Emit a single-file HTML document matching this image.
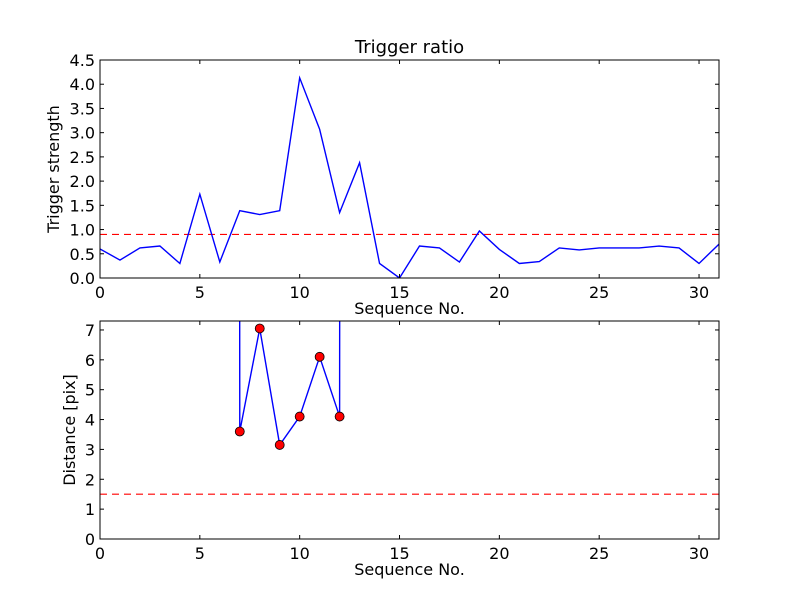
<!DOCTYPE html>
<html><head><meta charset="utf-8"><style>
body{margin:0;background:#fff}
svg{display:block}
text{font-family:"DejaVu Sans","Liberation Sans",sans-serif;fill:#000}
</style></head><body>
<svg id="c" width="800" height="600"></svg>
<script>
const seqTop=[0,1,2,3,4,5,6,7,8,9,10,11,12,13,14,15,16,17,18,19,20,21,22,23,24,25,26,27,28,29,30,31];
const strength=[0.6,0.37,0.62,0.66,0.3,1.73,0.33,1.39,1.31,1.39,4.13,3.07,1.35,2.38,0.3,0.0,0.66,0.62,0.33,0.97,0.59,0.3,0.34,0.62,0.58,0.62,0.62,0.62,0.66,0.62,0.3,0.7];
const strengthThreshold=0.9;
const seqBottom=[6,7,8,9,10,11,12,13];
const distance=[1000,3.6,7.05,3.15,4.1,6.1,4.1,1000];
const markerSeq=[7,8,9,10,11,12];
const markerDist=[3.6,7.05,3.15,4.1,6.1,4.1];
const distThreshold=1.5;
const xTicks=[0,5,10,15,20,25,30];
const yTicksTop=["0.0","0.5","1.0","1.5","2.0","2.5","3.0","3.5","4.0","4.5"];
const yTicksBottom=["0","1","2","3","4","5","6","7"];

const NS="http://www.w3.org/2000/svg";
const svg=document.getElementById('c');
function mk(tag,attrs,parent){const e=document.createElementNS(NS,tag);for(const k in attrs)e.setAttribute(k,attrs[k]);(parent||svg).appendChild(e);return e;}

function panel(name,top,bottom,ymax,yTicks,xs,ys,thr,ylabel,title){
  const L=100,R=719;
  const sx=v=>L+(v/31)*(R-L);
  const sy=v=>bottom-(v/ymax)*(bottom-top);
  const g=mk('g',{});
  
  
  const cid='clip-'+name;
  const cp=mk('clipPath',{id:cid},g);mk('rect',{x:L,y:top,width:R-L,height:bottom-top},cp);
  const th=mk('line',{x1:L,x2:R,y1:sy(thr),y2:sy(thr),stroke:'#f00','stroke-width':1.1,'stroke-dasharray':'7,5','clip-path':'url(#'+cid+')'},g);
  
  
  const pts=xs.map((x,i)=>sx(x).toFixed(2)+','+sy(ys[i]).toFixed(2)).join(' ');
  const pl=mk('polyline',{points:pts,fill:'none',stroke:'#00f','stroke-width':1.4,'clip-path':'url(#'+cid+')'},g);
  
  
  xTicks.forEach(t=>{
    mk('line',{x1:sx(t),x2:sx(t),y1:bottom,y2:bottom-4,stroke:'#000'},g);
    mk('line',{x1:sx(t),x2:sx(t),y1:top,y2:top+4,stroke:'#000'},g);
    const tx=mk('text',{x:sx(t),y:bottom+20,'text-anchor':'middle','font-size':16},g);tx.textContent=t;
    
    
  });
  yTicks.forEach(lbl=>{
    const v=parseFloat(lbl);
    mk('line',{x1:L,x2:L+4,y1:sy(v),y2:sy(v),stroke:'#000'},g);
    mk('line',{x1:R,x2:R-4,y1:sy(v),y2:sy(v),stroke:'#000'},g);
    const tx=mk('text',{x:L-5,y:sy(v)+6,'text-anchor':'end','font-size':16},g);tx.textContent=lbl;
    
    
  });
  const fr=mk('rect',{x:L,y:top,width:R-L,height:bottom-top,fill:'none',stroke:'#000','stroke-width':1},g);
  
  
  const xl=mk('text',{x:(L+R)/2,y:bottom+36,'text-anchor':'middle','font-size':16},g);xl.textContent='Sequence No.';
  
  
  const cy=(top+bottom)/2;
  const yl=mk('text',{x:0,y:0,'text-anchor':'middle','font-size':16,transform:'translate('+(name==='top-panel'?59:75)+','+cy+') rotate(-90)'},g);yl.textContent=ylabel;
  
  
  if(title){const t=mk('text',{x:(L+R)/2,y:top-7,'text-anchor':'middle','font-size':18},g);t.textContent=title;
    
    }
  return {sx,sy,g,cid};
}
panel('top-panel',60,278,4.5,yTicksTop,seqTop,strength,strengthThreshold,'Trigger strength','Trigger ratio');
const b=panel('bottom-panel',321,539,7.3,yTicksBottom,seqBottom,distance,distThreshold,'Distance [pix]',null);
markerSeq.forEach((x,i)=>{
  const c=mk('circle',{cx:b.sx(x),cy:b.sy(markerDist[i]),r:4.5,fill:'#f00',stroke:'#000','stroke-width':0.8},b.g);
  
  
});
</script>
</body></html>
